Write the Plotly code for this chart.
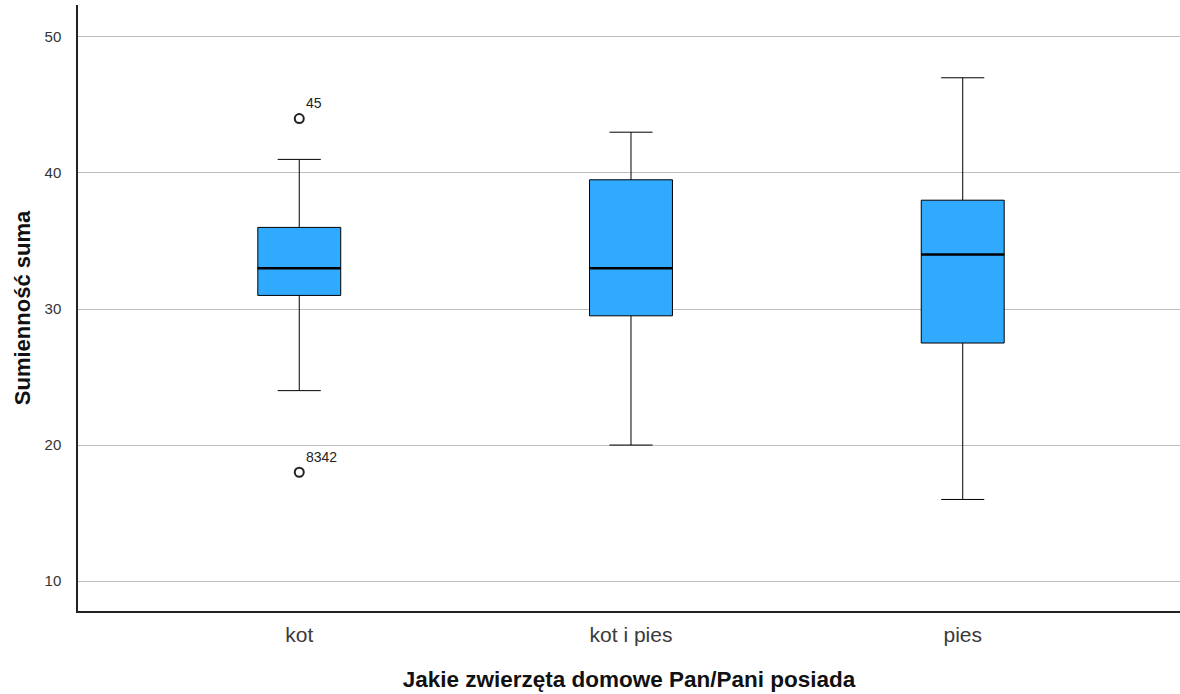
import plotly.graph_objects as go

# Summary statistics per group
categories = ["kot", "kot i pies", "pies"]
lower_whisker = [24, 20, 16]
q1 = [31, 29.5, 27.5]
median = [33, 33, 34]
q3 = [36, 39.5, 38]
upper_whisker = [41, 43, 47]

# Outlying cases (group index, value, case label)
outlier_group = [0, 0]
outlier_value = [44, 18]
outlier_label = ["45", "8342"]

positions = list(range(len(categories)))
box_width = 0.25
box_color = "#30aaff"

fig = go.Figure()

for i, cat in enumerate(categories):
    fig.add_trace(go.Box(
        x=[positions[i]],
        q1=[q1[i]], median=[median[i]], q3=[q3[i]],
        lowerfence=[lower_whisker[i]], upperfence=[upper_whisker[i]],
        width=box_width, whiskerwidth=0.52,
        fillcolor=box_color,
        line=dict(color="black", width=1),
        boxpoints=False, name=cat, showlegend=False, hoverinfo="skip",
    ))
    # heavier median bar
    fig.add_trace(go.Scatter(
        x=[positions[i] - box_width / 2, positions[i] + box_width / 2],
        y=[median[i], median[i]],
        mode="lines", line=dict(color="black", width=2.5),
        showlegend=False, hoverinfo="skip",
    ))

fig.add_trace(go.Scatter(
    x=[positions[g] for g in outlier_group],
    y=outlier_value,
    mode="markers+text",
    marker=dict(symbol="circle-open", size=9, color="#222", line=dict(width=2)),
    text=outlier_label,
    textposition="top right",
    textfont=dict(family="Liberation Sans, Arial", size=14, color="#222"),
    showlegend=False, hoverinfo="skip",
))

fig.update_layout(
    width=1180, height=694,
    margin=dict(l=78, r=0, t=5, b=83, autoexpand=False),
    paper_bgcolor="white", plot_bgcolor="white",
    font=dict(family="Liberation Sans, Arial", color="#222"),
    xaxis=dict(
        range=[-0.667, 2.655],
        tickvals=positions, ticktext=categories,
        tickfont=dict(size=21, color="#3a3a3a"),
        showgrid=False, zeroline=False,
        showline=True, linecolor="#222", linewidth=1.5,
        ticks="", ticklabelstandoff=4,
        automargin=False,
        title=dict(text="<b>Jakie zwierzęta domowe Pan/Pani posiada</b>",
                   font=dict(size=22.5, color="#111"), standoff=26),
    ),
    yaxis=dict(
        range=[7.8, 52.35],
        tickvals=[10, 20, 30, 40, 50],
        tickfont=dict(size=15, color="#333"),
        showgrid=True, gridcolor="#bdbdbd", gridwidth=1,
        zeroline=False,
        showline=True, linecolor="#222", linewidth=1.5,
        ticks="", ticklabelstandoff=12,
        automargin=False,
        title=dict(text="<b>Sumienność suma</b>",
                   font=dict(size=22, color="#111"), standoff=8),
    ),
)

fig.write_html("out.html")
